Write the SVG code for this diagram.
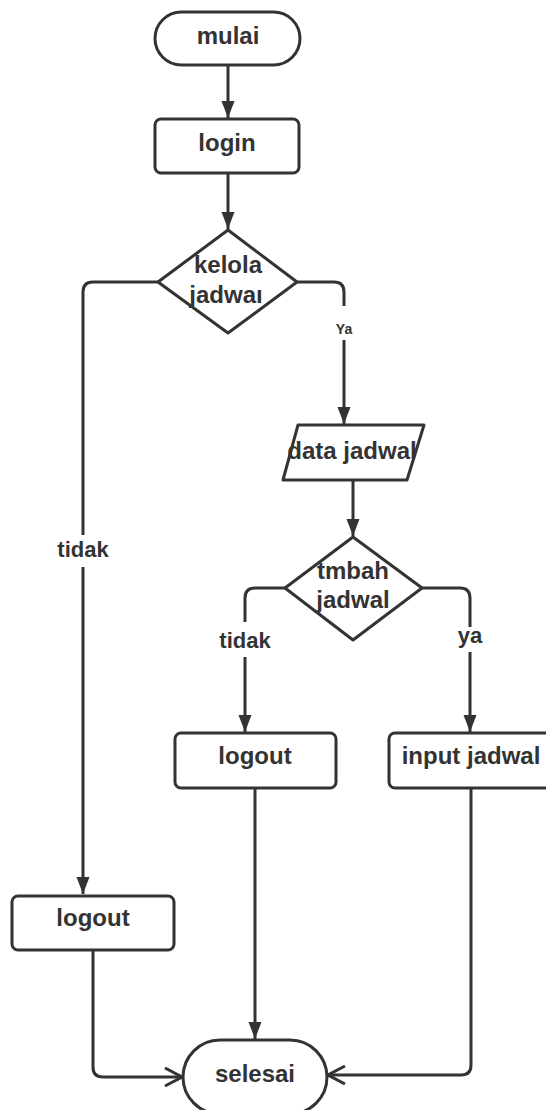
<svg xmlns="http://www.w3.org/2000/svg" width="546" height="1110" viewBox="0 0 546 1110">
<defs>
<style>
.n{fill:#fff;stroke:#333;stroke-width:3;stroke-linejoin:round}
.t{font-family:"Liberation Sans",Arial,sans-serif;font-weight:bold;font-size:24px;fill:#333;text-anchor:middle}
.l{font-family:"Liberation Sans",Arial,sans-serif;font-weight:bold;font-size:22px;fill:#333;text-anchor:middle}
.s{font-family:"Liberation Sans",Arial,sans-serif;font-weight:bold;font-size:14px;fill:#333;text-anchor:middle}
.c{fill:none;stroke:#333;stroke-width:3}
.a{marker-end:url(#fa)}
.o{marker-end:url(#oa)}
</style>
<marker id="fa" markerUnits="userSpaceOnUse" markerWidth="18" markerHeight="14" refX="17" refY="6.5" orient="auto">
<path d="M0,0 L17,6.5 L0,13 z" fill="#333"/>
</marker>
<marker id="oa" markerUnits="userSpaceOnUse" markerWidth="20" markerHeight="22" refX="18" refY="10" orient="auto">
<path d="M1,1 L18,10 L1,19" fill="none" stroke="#333" stroke-width="3"/>
</marker>
</defs>
<rect width="546" height="1110" fill="#fff"/>
<g id="connectors">
<path class="c a" d="M228,65 V118"/>
<path class="c a" d="M228,173 V229"/>
<path class="c a" d="M158,282 H93 Q83,282 83,292 V535 M83,567 V894"/>
<path class="c a" d="M297,282 H334 Q344,282 344,292 V306 M344,340 V424"/>
<path class="c a" d="M353,480 V536"/>
<path class="c a" d="M285,588 H255 Q245,588 245,598 V622 M245,657 V732"/>
<path class="c a" d="M422,588 H460 Q470,588 470,598 V627 M470,652 V732"/>
<path class="c a" d="M255,788 V1039"/>
<path class="c o" d="M93,950 V1067 Q93,1077 103,1077 H182"/>
<path class="c o" d="M471,788 V1065 Q471,1075 461,1075 H328"/>
<text class="l" x="83" y="557">tidak</text>
<text class="s" x="344" y="334">Ya</text>
<text class="l" x="245" y="648">tidak</text>
<text class="l" x="470" y="643">ya</text>
</g>
<g id="mulai">
<rect class="n" x="155" y="12" width="145" height="53" rx="26.5"/>
<text class="t" x="228" y="44">mulai</text>
</g>
<g id="login">
<rect class="n" x="155" y="119" width="144" height="54" rx="6"/>
<text class="t" x="227" y="151">login</text>
</g>
<g id="kelola-jadwal">
<path class="n" d="M228,230 L297,282 L228,333 L158,282 Z"/>
<text class="t" x="228" y="273">kelola</text>
<text class="t" x="226" y="303">jadwaı</text>
</g>
<g id="data-jadwal">
<path class="n" d="M298,425 H424 L407,480 H283 Z"/>
<text class="t" x="352" y="459">data jadwal</text>
</g>
<g id="tmbah-jadwal">
<path class="n" d="M353,537 L422,588 L353,640 L285,588 Z"/>
<text class="t" x="353" y="579">tmbah</text>
<text class="t" x="353" y="608">jadwal</text>
</g>
<g id="logout-1">
<rect class="n" x="12" y="896" width="162" height="54" rx="6"/>
<text class="t" x="93" y="926">logout</text>
</g>
<g id="logout-2">
<rect class="n" x="175" y="733" width="161" height="55" rx="6"/>
<text class="t" x="255" y="764">logout</text>
</g>
<g id="input-jadwal">
<rect class="n" x="389" y="733" width="162" height="55" rx="6"/>
<text class="t" x="471" y="764">input jadwal</text>
</g>
<g id="selesai">
<rect class="n" x="183" y="1040" width="144" height="74" rx="37"/>
<text class="t" x="255" y="1082">selesai</text>
</g>
</svg>
